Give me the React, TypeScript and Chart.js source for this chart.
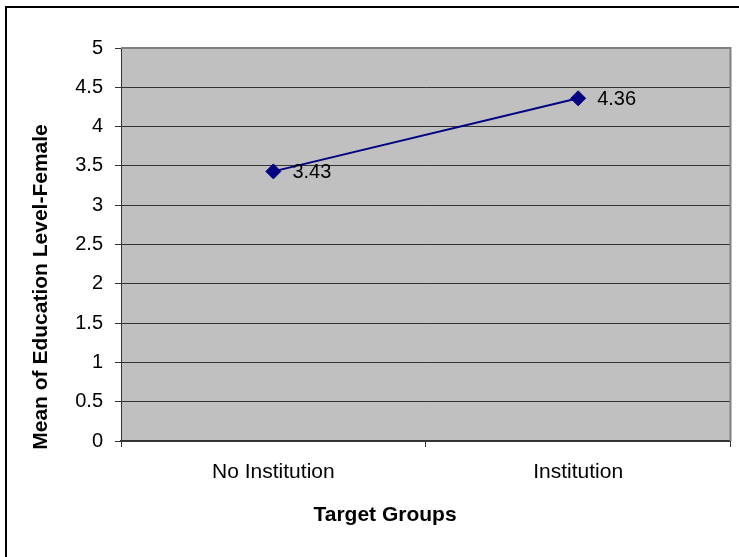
import React, { useEffect, useRef } from "react";
import { Chart, registerables } from "chart.js";

Chart.register(...registerables);

const categories = ["No Institution", "Institution"];
const meanValues = [3.43, 4.36];
const dataLabels = ["3.43", "4.36"];
const yTitle = "Mean of Education Level-Female";
const xTitle = "Target Groups";

const FONT = "'Liberation Sans', Arial, sans-serif";

const decorPlugin = {
  id: "decor",
  beforeDraw(chart: any) {
    const { ctx, chartArea } = chart;
    ctx.save();
    ctx.fillStyle = "#ffffff";
    ctx.fillRect(0, 0, chart.width, chart.height);
    ctx.fillStyle = "#C0C0C0";
    ctx.fillRect(chartArea.left, chartArea.top, chartArea.right - chartArea.left, chartArea.bottom - chartArea.top);
    ctx.restore();
  },
  afterDatasetsDraw(chart: any) {
    const { ctx, chartArea } = chart;
    ctx.save();
    ctx.strokeStyle = "#808080";
    ctx.lineWidth = 2;
    ctx.beginPath();
    ctx.moveTo(chartArea.left, chartArea.top);
    ctx.lineTo(chartArea.right, chartArea.top);
    ctx.lineTo(chartArea.right, chartArea.bottom);
    ctx.stroke();
    const meta = chart.getDatasetMeta(0);
    ctx.fillStyle = "#000000";
    ctx.font = `20px ${FONT}`;
    ctx.textAlign = "left";
    ctx.textBaseline = "middle";
    meta.data.forEach((pt: any, i: number) => {
      ctx.fillText(dataLabels[i], pt.x + 19, pt.y + 1);
    });
    ctx.font = `bold 21px ${FONT}`;
    ctx.textAlign = "center";
    ctx.textBaseline = "middle";
    ctx.fillText(xTitle, 385, 515);
    ctx.translate(41, 287);
    ctx.rotate(-Math.PI / 2);
    ctx.fillText(yTitle, 0, 0);
    ctx.restore();
    ctx.save();
    ctx.fillStyle = "#000000";
    ctx.fillRect(5, 6, 2, chart.height - 6);
    ctx.fillRect(5, 6, chart.width - 5, 2);
    ctx.restore();
  },
};

export default function App() {
  const ref = useRef<HTMLCanvasElement>(null);
  useEffect(() => {
    document.body.style.margin = "0";
    const chart = new Chart(ref.current as HTMLCanvasElement, {
      type: "line",
      data: {
        labels: categories,
        datasets: [
          {
            data: meanValues,
            borderColor: "#000080",
            backgroundColor: "#000080",
            borderWidth: 2,
            tension: 0,
            pointStyle: "rectRot",
            pointRadius: 7.5,
            pointBorderWidth: 1,
            pointBackgroundColor: "#000080",
            pointBorderColor: "#000080",
          },
        ],
      },
      options: {
        animation: false,
        responsive: false,
        devicePixelRatio: 1,
        layout: { padding: { left: 8, right: 5, top: 48, bottom: 0 } },
        plugins: { legend: { display: false }, tooltip: { enabled: false }, title: { display: false } },
        scales: {
          x: {
            type: "category",
            offset: true,
            grid: {
              offset: true,
              drawOnChartArea: false,
              drawTicks: true,
              tickLength: 6,
              color: "#333333",
            },
            border: { display: true, color: "#333333", width: 2 },
            ticks: {
              color: "#000000",
              font: { family: FONT, size: 21 },
              padding: 13,
              maxRotation: 0,
            },
            afterFit: (scale: any) => {
              scale.height = 116;
              scale.paddingLeft = 0;
              scale.paddingRight = 0;
            },
          },
          y: {
            min: 0,
            max: 5,
            ticks: {
              stepSize: 0.5,
              color: "#000000",
              font: { family: FONT, size: 20 },
              padding: 12,
              callback: (v: any) => String(v),
            },
            grid: {
              color: "#333333",
              lineWidth: 1,
              tickLength: 6,
              drawTicks: true,
            },
            border: { display: true, color: "#333333", width: 1 },
            afterFit: (scale: any) => {
              scale.width = 113;
            },
          },
        },
      },
      plugins: [decorPlugin],
    });
    return () => chart.destroy();
  }, []);
  return <canvas ref={ref} width={739} height={557} style={{ display: "block" }} />;
}
